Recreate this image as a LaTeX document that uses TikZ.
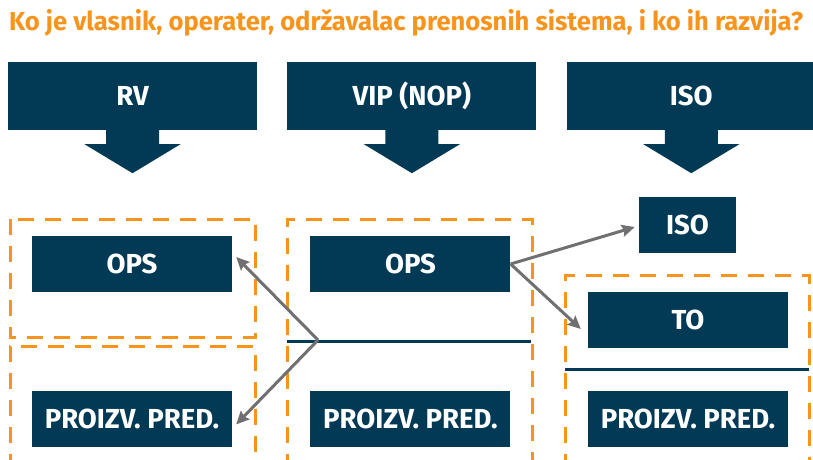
\documentclass[tikz,border=0pt]{standalone}
\usepackage{fontspec}
\setmainfont{Fira Sans}
\usepackage{graphicx}
\usetikzlibrary{positioning, arrows.meta}
\definecolor{boxblue}{RGB}{2,58,86}
\definecolor{frameorange}{RGB}{247,148,29}
\definecolor{linkgray}{RGB}{112,112,114}
\tikzstyle{head} = [rectangle, inner sep=0pt, minimum width=249pt, minimum height=68pt, fill=boxblue, text=white, font=\fontsize{27.5}{27.5}\selectfont\bfseries]
\tikzstyle{unit} = [rectangle, inner sep=0pt, minimum width=200pt, minimum height=56pt, fill=boxblue, text=white, font=\fontsize{27.5}{27.5}\selectfont\bfseries]
\tikzstyle{frame} = [frameorange, line width=3pt, dash pattern=on 16pt off 11pt]
\tikzstyle{divider} = [boxblue, line width=3pt]
\tikzstyle{link} = [linkgray, line width=3pt, -{Stealth[length=13pt, width=12pt, inset=2pt]}]

\begin{document}
\begin{tikzpicture}[x=1pt, y=-1pt]
    \useasboundingbox (0,0) rectangle (813,459);
    % Title
    \node (title) [anchor=base west, inner sep=0pt, text=frameorange, font=\fontsize{26}{26}\selectfont\bfseries] at (9,30.5)
        {\resizebox{794pt}{\height}{Ko je vlasnik, operater, održavalac prenosnih sistema, i ko ih razvija?}};

    % Top row with down arrows
    \node (rv) [head] at (132.5,96) {RV};
    \node (vip) [head, right=30pt of rv] {VIP (NOP)};
    \node (isotop) [head, right=30pt of vip] {ISO};
    \foreach \n in {rv, vip, isotop}
        \fill[boxblue] ([xshift=-26.5pt, yshift=1pt]\n.south) -- ++(0,15) -- ++(-21.5,0) -- ++(48,29)
            -- ++(48,-29) -- ++(-21.5,0) -- ++(0,-15) -- cycle;

    % Dashed frames and dividers
    \draw[frame] (10,219) rectangle (255,337);
    \draw[frame] (10,470) |- (255,346) -- (255,470);
    \draw[frame] (287,470) |- (532,219) -- (532,470);
    \draw[frame] (565,470) |- (809,275) -- (809,470);
    \draw[divider] (287,341) -- (531,341);
    \draw[divider] (565,369) -- (809,369);

    % Unit boxes
    \node (ops1) [unit] at (132,264) {OPS};
    \node (proizv1) [unit, below=99pt of ops1] {PROIZV. PRED.};
    \node (ops2) [unit, right=78pt of ops1] {OPS};
    \node (proizv2) [unit, below=99pt of ops2] {PROIZV. PRED.};
    \node (iso) [unit, minimum width=97pt] at (687.5,225) {ISO};
    \node (to) [unit] at (688,320) {TO};
    \node (proizv3) [unit, below=43pt of to] {PROIZV. PRED.};

    % Arrows
    \coordinate (split) at (318,340);
    \draw[link] (split) -- ([xshift=4pt, yshift=7pt]ops1.east);
    \draw[link] (split) -- ([xshift=4pt, yshift=-5pt]proizv1.east);
    \draw[link] (ops2.east) -- ([xshift=-4pt, yshift=-2pt]iso.west);
    \draw[link] (ops2.east) -- ([xshift=-7pt, yshift=-9pt]to.west);
\end{tikzpicture}
\end{document}
